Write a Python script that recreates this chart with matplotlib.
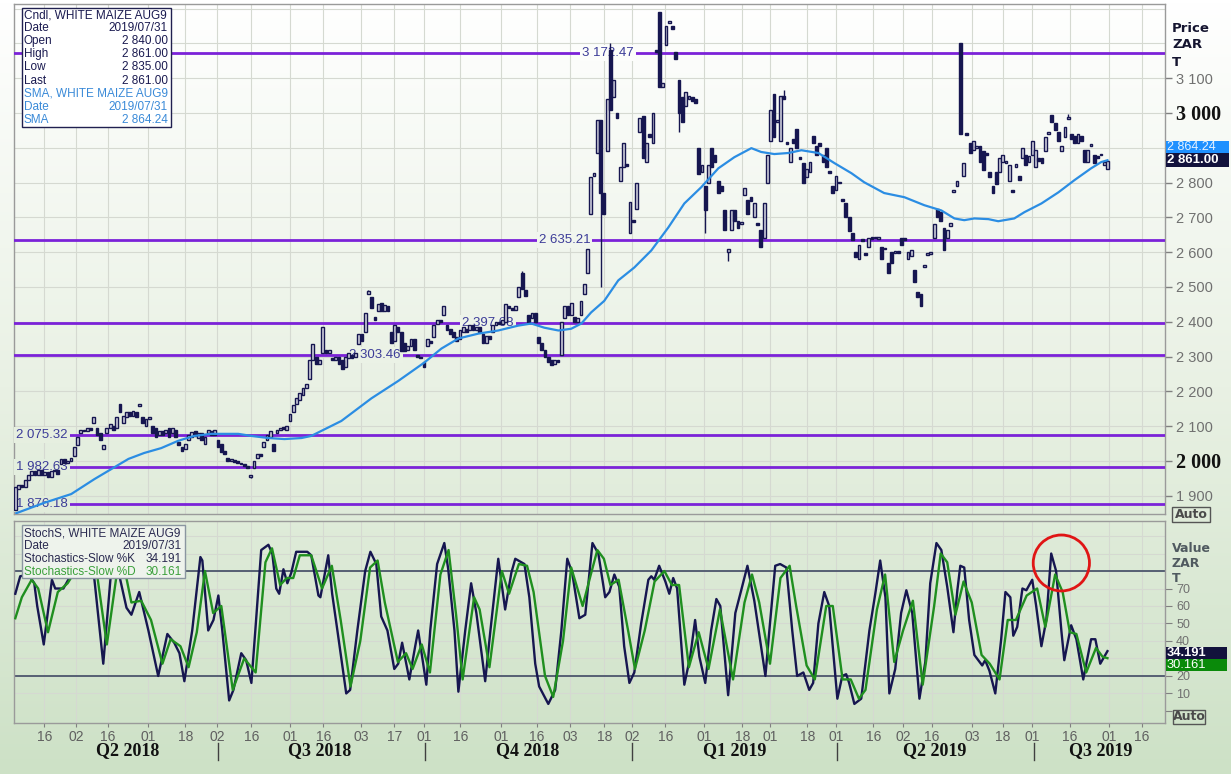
import numpy as np
import matplotlib
matplotlib.use("Agg")
import matplotlib.pyplot as plt
from matplotlib.patches import Rectangle, Ellipse
from matplotlib.colors import LinearSegmentedColormap
from matplotlib import transforms

# daily candles, WHITE MAIZE AUG9 (trading-day index 0..334)
opens = [
    1860, 1920, 1930, 1925, 1945, 1960, 1970, 1960, 1975, 1960,
    1968, 1955, 1970, 1975, 1990, 2005, 1995, 2000, 2015, 2045,
    2080, 2090, 2085, 2095, 2110, 2095, 2080, 2035, 2080, 2095,
    2100, 2095, 2165, 2110, 2125, 2140, 2130, 2140, 2158, 2125,
    2100, 2120, 2100, 2095, 2075, 2085, 2080, 2095, 2080, 2090,
    2055, 2040, 2035, 2060, 2070, 2085, 2065, 2080, 2050, 2080,
    2085, 2075, 2060, 2050, 2030, 2010, 2000, 2002, 2000, 1995,
    1990, 1983, 1955, 1980, 2010, 2020, 2040, 2060, 2070, 2050,
    2080, 2090, 2095, 2090, 2115, 2140, 2165, 2175, 2190, 2210,
    2235, 2290, 2300, 2280, 2310, 2320, 2310, 2295, 2290, 2300,
    2290, 2270, 2295, 2305, 2300, 2335, 2365, 2370, 2480, 2470,
    2415, 2430, 2455, 2430, 2445, 2370, 2345, 2385, 2370, 2340,
    2320, 2330, 2350, 2305, 2300, 2285, 2330, 2345, 2355, 2395,
    2405, 2420, 2390, 2380, 2370, 2355, 2350, 2370, 2380, 2375,
    2390, 2375, 2385, 2365, 2340, 2360, 2370, 2390, 2400, 2395,
    2400, 2445, 2440, 2435, 2470, 2540, 2490, 2420, 2410, 2425,
    2355, 2340, 2320, 2300, 2290, 2280, 2290, 2305, 2410, 2445,
    2420, 2415, 2400, 2420, 2480, 2540, 2710, 2820, 2885, 2980,
    2770, 2890, 3180, 3045, 3000, 2805, 2845, 2852, 2655, 2692,
    2725, 2945, 2990, 2860, 2940, 2915, 3180, 3290, 3075, 3195,
    3258, 3250, 3175, 3095, 3045, 3020, 3040, 3045, 3040, 2900,
    2830, 2790, 2800, 2900, 2880, 2805, 2790, 2720, 2600, 2665,
    2720, 2690, 2680, 2765, 2750, 2758, 2700, 2682, 2665, 2640,
    2800, 2920, 3055, 2975, 2920, 3050, 2918, 2860, 2925, 2955,
    2872, 2855, 2815, 2830, 2935, 2905, 2915, 2880, 2900, 2832,
    2790, 2780, 2800, 2752, 2740, 2700, 2655, 2600, 2580, 2637,
    2597, 2615, 2642, 2640, 2638, 2615, 2612, 2570, 2600, 2598,
    2602, 2640, 2642, 2580, 2590, 2550, 2485, 2480, 2558, 2592,
    2595, 2640, 2725, 2715, 2670, 2640, 2675, 2773, 2790, 3200,
    2820, 2942, 2915, 2895, 2900, 2905, 2890, 2885, 2830, 2790,
    2830, 2830, 2860, 2855, 2805, 2777, 2845, 2820, 2870, 2880,
    2860, 2880, 2845, 2870, 2870, 2890, 2940, 2995, 2970, 2945,
    2890, 2930, 2982, 2940, 2935, 2915, 2935, 2895, 2860, 2905,
    2880, 2875, 2882, 2850, 2840,
]
closes = [
    1925, 1930, 1925, 1945, 1960, 1970, 1960, 1975, 1960, 1968,
    1955, 1970, 1975, 1962, 2005, 1995, 2000, 2010, 2040, 2070,
    2090, 2085, 2095, 2090, 2125, 2075, 2060, 2045, 2095, 2105,
    2090, 2125, 2140, 2130, 2140, 2130, 2145, 2125, 2162, 2110,
    2120, 2125, 2080, 2070, 2085, 2075, 2090, 2070, 2095, 2070,
    2045, 2030, 2050, 2075, 2082, 2072, 2080, 2060, 2070, 2090,
    2075, 2090, 2040, 2025, 2020, 2000, 2005, 1998, 1995, 1990,
    1985, 1980, 1960, 2000, 2020, 2015, 2055, 2075, 2085, 2030,
    2090, 2095, 2092, 2100, 2135, 2160, 2180, 2195, 2210, 2220,
    2290, 2335, 2280, 2290, 2385, 2310, 2320, 2290, 2300, 2280,
    2265, 2300, 2310, 2295, 2310, 2365, 2345, 2425, 2488, 2440,
    2405, 2450, 2430, 2448, 2430, 2340, 2390, 2370, 2315, 2315,
    2330, 2350, 2320, 2300, 2295, 2270, 2350, 2340, 2390, 2405,
    2400, 2445, 2375, 2365, 2355, 2345, 2375, 2385, 2370, 2390,
    2375, 2385, 2370, 2340, 2360, 2350, 2390, 2400, 2395, 2405,
    2450, 2440, 2435, 2445, 2500, 2495, 2475, 2400, 2425, 2400,
    2340, 2320, 2300, 2285, 2275, 2290, 2285, 2400, 2445, 2420,
    2455, 2400, 2410, 2460, 2510, 2610, 2815, 2828, 2980, 2770,
    2710, 3040, 3010, 3095, 2985, 2845, 2915, 2848, 2745, 2688,
    2800, 2985, 2870, 2915, 2930, 3000, 3175, 3075, 3085, 3250,
    3262, 3240, 3155, 3000, 2975, 3060, 3050, 3035, 3030, 2825,
    2850, 2720, 2850, 2845, 2860, 2770, 2775, 2665, 2610, 2720,
    2690, 2670, 2688, 2785, 2710, 2748, 2740, 2678, 2615, 2740,
    2880, 3010, 2930, 2978, 3050, 3040, 2912, 2900, 2915, 2900,
    2868, 2800, 2840, 2860, 2915, 2880, 2905, 2860, 2845, 2828,
    2770, 2820, 2798, 2748, 2700, 2660, 2635, 2585, 2620, 2633,
    2593, 2640, 2638, 2645, 2642, 2580, 2608, 2540, 2570, 2602,
    2598, 2620, 2636, 2600, 2605, 2515, 2470, 2445, 2562, 2597,
    2598, 2680, 2700, 2690, 2605, 2665, 2685, 2777, 2805, 2940,
    2855, 2938, 2885, 2920, 2905, 2860, 2835, 2878, 2815, 2770,
    2795, 2870, 2880, 2862, 2850, 2773, 2852, 2808, 2900, 2850,
    2875, 2920, 2895, 2862, 2855, 2930, 2942, 2975, 2950, 2920,
    2905, 2960, 2988, 2925, 2915, 2940, 2920, 2860, 2895, 2908,
    2855, 2870, 2878, 2860, 2861,
]
# wicks that stick out beyond the body
high_spikes = {108: 2490, 155: 2545, 182: 3200, 235: 3065, 322: 2998}
low_spikes = {72: 1950, 179: 2500, 203: 2945, 211: 2655, 218: 2575}

# SMA (day index, value)
sma_points = [
    (0.3, 1850), (8.9, 1880), (17.1, 1905), (24.2, 1948), (29.4, 1977), (34.6, 2006),
    (39.4, 2023), (44.6, 2037), (49.8, 2058), (54.7, 2072), (59.9, 2078), (68.2, 2078),
    (72.2, 2072), (77.4, 2066), (82.3, 2063), (87.5, 2066), (90.5, 2072), (99.7, 2115),
    (108.9, 2180), (117.1, 2230), (125.1, 2283), (130.3, 2323), (135.5, 2352), (141.6, 2366),
    (147.7, 2375), (153.8, 2389), (157.8, 2395), (161.8, 2383), (166.1, 2375), (170, 2380),
    (173.1, 2395), (176.1, 2427), (180.1, 2460), (184.4, 2519), (189.3, 2556), (194.5, 2605),
    (199.7, 2671), (204.6, 2740), (209.8, 2787), (215, 2841), (219.9, 2873), (225.1, 2899),
    (228.1, 2888), (232.1, 2882), (236.4, 2885), (240.4, 2893), (245.6, 2885), (250.5, 2856),
    (255.7, 2827), (259.6, 2801), (265.7, 2770), (271.9, 2758), (278, 2735), (283.2, 2720),
    (287.2, 2697), (290.2, 2692), (293.3, 2697), (297.6, 2695), (300.6, 2689), (305.5, 2697),
    (308.6, 2715), (313.8, 2740), (319, 2772), (323.9, 2807), (329, 2841), (332.1, 2859),
    (334, 2864.24),
]

levels = [3172.47, 2635.21, 2397.68, 2303.46, 2075.32, 1982.63, 1876.18]
level_label_x = [181.3, 168.0, 144.6, 110.0, 0.3, 0.3, 0.3]

# Stochastics-Slow %K (navy) and %D (green)
k_idx = [0, 1.5, 4, 5.8, 6.7, 8.7, 11.2, 12.2, 14.7, 16.8,
         18.7, 21.7, 24.2, 26.9, 29.4, 30.6, 32.1, 34, 35.5, 37.9,
         40.7, 43.7, 46.5, 48.6, 50.2, 51.7, 54.1, 56.6, 57.2, 59,
         60.6, 62.1, 63.3, 65.4, 66.7, 69.1, 70.6, 72.2, 73.4, 75.2,
         77.4, 78.6, 79.8, 80.7, 82, 83.2, 84.4, 85.9, 89.3, 90.5,
         92.7, 93.3, 95.7, 96.9, 98.5, 101.2, 102.4, 104.6, 107, 108.6,
         110.4, 111.9, 113.8, 115.9, 117.1, 118.3, 120.5, 122.3, 123.2, 125.7,
         126.9, 129, 131.2, 132.4, 134.3, 135.5, 137.6, 139.4, 141, 143.7,
         145.3, 147.7, 149.8, 151.7, 152.9, 155.7, 157.2, 159, 160.2, 163,
         165.1, 167, 168.8, 170.3, 172.5, 174.3, 176.5, 178.3, 180.4, 181.7,
         183.2, 184.7, 186.2, 187.8, 189.3, 191.4, 193.6, 194.5, 195.4, 196.9,
         198.8, 200, 201.2, 202.4, 204.6, 206.4, 207.9, 209.2, 211, 212.8,
         214.4, 215.6, 218, 220.2, 222, 223.9, 226, 229.4, 230.6, 232.4,
         233.9, 235.8, 237.6, 239.1, 241, 242.8, 244, 245.6, 247.4, 248.9,
         251.4, 252.9, 254.1, 255, 256.6, 258.7, 261.2, 263, 264.5, 266.1,
         267.3, 269.1, 270.9, 272.5, 274.3, 276.5, 278.3, 279.8, 281.7, 283.2,
         285, 286.9, 288.1, 289, 290.2, 291.7, 293.3, 295.7, 296.6, 297.9,
         299.7, 301.5, 302.8, 304.3, 305.2, 306.4, 308, 309.2, 311, 312.2,
         313.8, 315.3, 316.8, 318.3, 319.9, 320.8, 322.9, 324.5, 326.6, 329,
         330.3, 331.8, 334]
k_val = [67, 77, 78, 73, 60, 38, 75, 70, 70, 77,
         92, 93, 75, 27, 82, 93, 75, 59, 55, 68,
         46, 20, 44, 39, 33, 17, 46, 88, 86, 46,
         52, 66, 46, 6, 12, 33, 29, 16, 46, 92,
         95, 90, 70, 67, 81, 73, 79, 91, 91, 89,
         66, 65, 89, 67, 46, 10, 12, 46, 80, 91,
         84, 54, 46, 24, 27, 39, 18, 37, 46, 15,
         46, 84, 96, 81, 46, 11, 46, 73, 56, 17,
         46, 87, 58, 79, 87, 84, 65, 27, 14, 4,
         12, 46, 87, 79, 53, 55, 96, 90, 65, 68,
         78, 71, 37, 16, 22, 50, 75, 77, 75, 83,
         74, 67, 76, 70, 15, 31, 52, 31, 16, 46,
         64, 60, 9, 56, 69, 83, 63, 20, 46, 83,
         84, 82, 46, 20, 22, 12, 16, 50, 68, 60,
         7, 20, 21, 16, 4, 7, 46, 67, 86, 65,
         10, 24, 56, 69, 56, 7, 28, 73, 96, 92,
         71, 45, 69, 83, 82, 52, 32, 26, 29, 23,
         10, 41, 68, 65, 43, 48, 70, 69, 75, 60,
         37, 52, 90, 80, 46, 29, 49, 41, 18, 41,
         41, 27, 34.191]
d_points = [
    (0, 53), (2, 65), (5, 75), (7, 70), (10, 45), (13, 68), (16, 73), (19, 82), (22.5, 90),
    (25, 78), (28, 38), (31, 78), (33, 85), (35.5, 62), (38.5, 63), (41.5, 52), (45, 27),
    (47.5, 41), (50.5, 37), (53, 25), (55.5, 45), (58, 80), (60.5, 56), (63, 60), (66.5, 12),
    (70, 30), (73.5, 22), (76.5, 85), (78.5, 93), (81, 72), (83, 76), (85, 76), (87, 89),
    (90.5, 89), (93.8, 70), (96.8, 83), (99.5, 52), (102.5, 14), (105.5, 40), (108.5, 82),
    (110.8, 86), (113, 62), (117, 28), (119.5, 33), (121.5, 24), (124.3, 38), (126.8, 22),
    (130, 78), (132.5, 92), (134.8, 55), (136.8, 18), (140.3, 65), (142, 58), (145, 25),
    (148.8, 80), (151, 67), (154, 84), (156.5, 83), (158.5, 68), (162, 20), (164.5, 8),
    (167.5, 40), (170, 82), (173.5, 60), (176, 78), (178, 92), (180, 87), (182, 72),
    (184.5, 75), (187.5, 45), (189.5, 24), (192.5, 46), (195.5, 74), (198.5, 80), (200.8, 72),
    (203, 72), (206, 25), (209, 45), (212, 24), (215.5, 58), (219.5, 18), (223, 62),
    (225.3, 78), (227.5, 62), (230.8, 27), (234, 76), (236.8, 83), (238.8, 60), (242, 26),
    (244.5, 18), (248, 60), (250, 60), (253, 18), (255.5, 18), (258, 7), (260, 12),
    (263.5, 58), (266, 78), (268.8, 28), (271.5, 46), (274.5, 63), (277.5, 15), (281, 60),
    (283, 90), (285, 85), (287.5, 55), (290, 74), (292.5, 62), (295.5, 32), (298, 27),
    (301, 18), (303.5, 52), (306, 52), (309.3, 66), (312.5, 70), (315, 48), (318, 78),
    (320.3, 68), (322.5, 45), (324.5, 44), (327.5, 22), (330.5, 36), (332.5, 31), (334, 30.161),
]

day_tick_pos = [8.9, 18.7, 28.4, 40.7, 52.0, 61.8, 72.2, 84.1, 94.2, 105.8, 115.9,
                125.1, 136.1, 148.6, 159.6, 169.7, 180.1, 188.7, 198.8, 210.7, 222.3,
                230.9, 242.2, 251.1, 262.4, 271.6, 280.4, 292.7, 302.1, 311.0, 322.6,
                334.6, 344.6]
day_tick_labels = ['16', '02', '16', '01', '18', '02', '16', '01', '16', '03', '17',
                   '01', '16', '01', '16', '03', '18', '02', '16', '01', '18',
                   '01', '18', '01', '16', '02', '16', '03', '18', '01', '16',
                   '01', '16']
quarter_bounds = [62.1, 125.4, 188.7, 251.4, 311.6]
quarter_pos = [34.4, 93.0, 156.6, 219.9, 281.3, 331.8]
quarter_labels = ['Q2 2018', 'Q3 2018', 'Q4 2018', 'Q1 2019', 'Q2 2019', 'Q3 2019']

price_ticks = list(range(1900, 3101, 100))
price_hidden = [2900]          # covered by the last-value tags
stoch_ticks = [0, 10, 20, 30, 40, 50, 60, 70]
stoch_shown = [10, 20, 40, 50, 60, 70]

NAVY = '#161650'
GREEN = '#1f8f1f'
PURPLE = '#7b22d8'
BLUE = '#2b8de3'
GRID = '#d5d9d1'

W, H = 1231, 774
fig = plt.figure(figsize=(W / 100, H / 100), dpi=100)


def rect(x0, y0, x1, y1):
    return [x0 / W, 1 - y1 / H, (x1 - x0) / W, (y1 - y0) / H]


def ptext(x, y, s, **kw):
    return fig.text(x / W, 1 - y / H, s, **kw)


def pbox(x0, y0, x1, y1, **kw):
    fig.patches.append(Rectangle((x0 / W, 1 - y1 / H), (x1 - x0) / W, (y1 - y0) / H,
                                 transform=fig.transFigure, **kw))


# background gradient
bg_cmap = LinearSegmentedColormap.from_list('bg', ['#cde1c6', '#e9f1e4', '#ffffff'])
bg = fig.add_axes([0, 0, 1, 1], zorder=-5)
bg.imshow(np.linspace(1, 0, 256)[:, None], aspect='auto', cmap=bg_cmap,
          extent=[0, 1, 0, 1], vmin=0, vmax=1)
bg.axis('off')


def bg_color(y_px):
    return bg_cmap(1 - y_px / H)


ax = fig.add_axes(rect(14, 4, 1165, 514))
ax2 = fig.add_axes(rect(14, 521, 1165, 723), sharex=ax)
for a in (ax, ax2):
    a.set_facecolor('none')
    for s in a.spines.values():
        s.set_color('#9a9a9a')
        s.set_linewidth(1)

ax.set_xlim(-0.4, 351.6)
ax.set_ylim(1847.7, 3313.2)
ax2.set_ylim(-6.9, 108.6)

# grid
for p in day_tick_pos:
    ax.axvline(p, color=GRID, lw=0.8, zorder=0)
    ax2.axvline(p, color=GRID, lw=0.8, zorder=0)
for v in range(1900, 3301, 100):
    ax.axhline(v, color=GRID, lw=0.8, zorder=0)
for v in range(10, 101, 10):
    ax2.axhline(v, color=GRID, lw=0.8, zorder=0)

# candles
x = np.arange(len(closes))
o = np.array(opens, float)
c = np.array(closes, float)
top = np.maximum(o, c)
bot = np.minimum(o, c)
hi = top.copy()
lo = bot.copy()
for k, v in high_spikes.items():
    hi[k] = max(hi[k], v)
for k, v in low_spikes.items():
    lo[k] = min(lo[k], v)
ax.vlines(x, lo, hi, color=NAVY, lw=1, zorder=4)
up = c >= o
body = np.maximum(top - bot, 5)
ax.bar(x[up], body[up], bottom=bot[up], width=0.85, facecolor='#d4d4e0',
       edgecolor=NAVY, lw=1.0, zorder=5)
ax.bar(x[~up], body[~up], bottom=bot[~up], width=0.85, facecolor=NAVY,
       edgecolor=NAVY, lw=1.0, zorder=5)

# SMA
sx, sy = zip(*sma_points)
ax.plot(sx, sy, color=BLUE, lw=1.6, zorder=6)

# horizontal levels with labels
for lv, lx in zip(levels, level_label_x):
    ax.axhline(lv, color=PURPLE, lw=2, zorder=3)
    ypx = 113 + (3000 - lv) * 0.348
    txt = f"{int(lv) // 1000} {lv % 1000:06.2f}"
    ax.text(lx, lv, txt, ha='left' if lx < 5 else 'center', va='center',
            fontsize=9.5, color='#3c3c98', family='Liberation Sans', zorder=3.5,
            bbox=dict(boxstyle='square,pad=0.15', fc=bg_color(ypx), ec='none'))

# price axis on the right
ax.yaxis.tick_right()
ax.set_yticks(price_ticks)
ax.set_yticklabels(['' if v in price_hidden else f"{v // 1000} {v % 1000:03d}"
                    for v in price_ticks])
ax.set_xticks(day_tick_pos)
ax.tick_params(axis='y', direction='out', length=5, width=1, color='#808080', pad=3)
ax.tick_params(axis='x', length=0, labelbottom=False)
for v, lab in zip(price_ticks, ax.get_yticklabels()):
    if v % 1000 == 0:
        lab.set_fontsize(14.5)
        lab.set_fontweight('bold')
        lab.set_color('#111111')
        lab.set_family('Liberation Serif')
    else:
        lab.set_fontsize(10.5)
        lab.set_color('#707070')
        lab.set_family('Liberation Sans')

# stochastics
ax2.axhline(80, color='#4c566c', lw=1.3, zorder=2)
ax2.axhline(20, color='#4c566c', lw=1.3, zorder=2)
dx, dy = zip(*d_points)
ax2.plot(k_idx, k_val, color=NAVY, lw=1.7, zorder=4)
ax2.plot(dx, dy, color=GREEN, lw=1.7, zorder=5)
ax2.add_patch(Ellipse((319.9, 84.6), 17.2, 32, fill=False, ec='#e01515', lw=2, zorder=7))

ax2.yaxis.tick_right()
ax2.set_yticks(stoch_ticks)
ax2.set_yticklabels([str(v) if v in stoch_shown else '' for v in stoch_ticks])
ax2.tick_params(axis='y', direction='out', length=5, color='#808080', pad=3,
                labelsize=9, labelcolor='#707070')
ax2.set_xticks(day_tick_pos)
ax2.set_xticklabels(day_tick_labels)
ax2.tick_params(axis='x', direction='out', length=3, color='#808080', pad=2,
                labelsize=10, labelcolor='#606060')
for lab in ax2.get_xticklabels() + ax2.get_yticklabels():
    lab.set_family('Liberation Sans')

tr = transforms.blended_transform_factory(ax2.transData, ax2.transAxes)
for qb in quarter_bounds:
    ax2.plot([qb, qb], [-0.10, -0.185], color='#404040', lw=1, transform=tr, clip_on=False)
for qp, ql in zip(quarter_pos, quarter_labels):
    ax2.text(qp, -0.135, ql, transform=tr, ha='center', va='center', fontsize=13,
             fontweight='bold', family='Liberation Serif', color='#111111')

# right-side captions and tags
for i, s in enumerate(['Price', 'ZAR', 'T']):
    ptext(1172, 28 + 17 * i, s, ha='left', va='center', fontsize=9.5,
          fontweight='bold', color='#151530', family='DejaVu Sans')
for i, s in enumerate(['Value', 'ZAR', 'T']):
    ptext(1172, 549 + 14.5 * i, s, ha='left', va='center', fontsize=9,
          fontweight='bold', color='#505a60', family='DejaVu Sans')

pbox(1166, 141, 1229, 153, fc='#1e90ff', ec='none', zorder=2)
ptext(1167, 147, '2 864.24', ha='left', va='center', fontsize=9, color='#e6f2ff',
      family='Liberation Sans', zorder=3)
pbox(1166, 153, 1229, 167, fc='#12123c', ec='none', zorder=2)
ptext(1167, 160, '2 861.00', ha='left', va='center', fontsize=9.5, fontweight='bold',
      color='white', family='Liberation Sans', zorder=3)
pbox(1166, 647, 1227, 659, fc='#12123c', ec='none', zorder=2)
ptext(1167, 653, '34.191', ha='left', va='center', fontsize=9.3, fontweight='bold',
      color='white', family='Liberation Sans', zorder=3)
pbox(1166, 659, 1227, 671, fc='#0a8a0a', ec='none', zorder=2)
ptext(1167, 665, '30.161', ha='left', va='center', fontsize=9.3, color='white',
      family='Liberation Sans', zorder=3)

for (bx0, by0, bx1, by1) in [(1172, 507, 1210, 522), (1173, 710, 1205, 724)]:
    pbox(bx0, by0, bx1, by1, fc='none', ec='#555555', lw=1, zorder=2)
    ptext((bx0 + bx1) / 2, (by0 + by1) / 2, 'Auto', ha='center', va='center',
          fontsize=9, fontweight='bold', color='#4a4a4a', family='DejaVu Sans', zorder=3)

# info boxes
pbox(22, 8, 171, 127, fc='white', ec='#202050', lw=1, zorder=2)
main_rows = [('Cndl, WHITE MAIZE AUG9', ''), ('Date', '2019/07/31'), ('Open', '2 840.00'),
             ('High', '2 861.00'), ('Low', '2 835.00'), ('Last', '2 861.00'),
             ('SMA, WHITE MAIZE AUG9', ''), ('Date', '2019/07/31'), ('SMA', '2 864.24')]
for i, (l, r) in enumerate(main_rows):
    col = '#1a1a50' if i < 6 else '#3a8ad8'
    yy = 15 + 13.1 * i
    ptext(24, yy, l, ha='left', va='center', fontsize=8.5, color=col,
          family='Liberation Sans', zorder=3)
    if r:
        ptext(168, yy, r, ha='right', va='center', fontsize=8.5, color=col,
              family='Liberation Sans', zorder=3)

pbox(22, 525, 185, 578, fc='#eef3ec', ec='#8a96a0', lw=1, zorder=2)
stoch_rows = [('StochS, WHITE MAIZE AUG9', ''), ('Date', '2019/07/31'),
              ('Stochastics-Slow %K', '34.191'), ('Stochastics-Slow %D', '30.161')]
for i, (l, r) in enumerate(stoch_rows):
    col = '#3aa03a' if i == 3 else '#2a2a50'
    yy = 533 + 13 * i
    ptext(24, yy, l, ha='left', va='center', fontsize=8.5, color=col,
          family='Liberation Sans', zorder=3)
    if r:
        ptext(182, yy, r, ha='right', va='center', fontsize=8.5, color=col,
              family='Liberation Sans', zorder=3)

fig.savefig('out.png', dpi=100)
